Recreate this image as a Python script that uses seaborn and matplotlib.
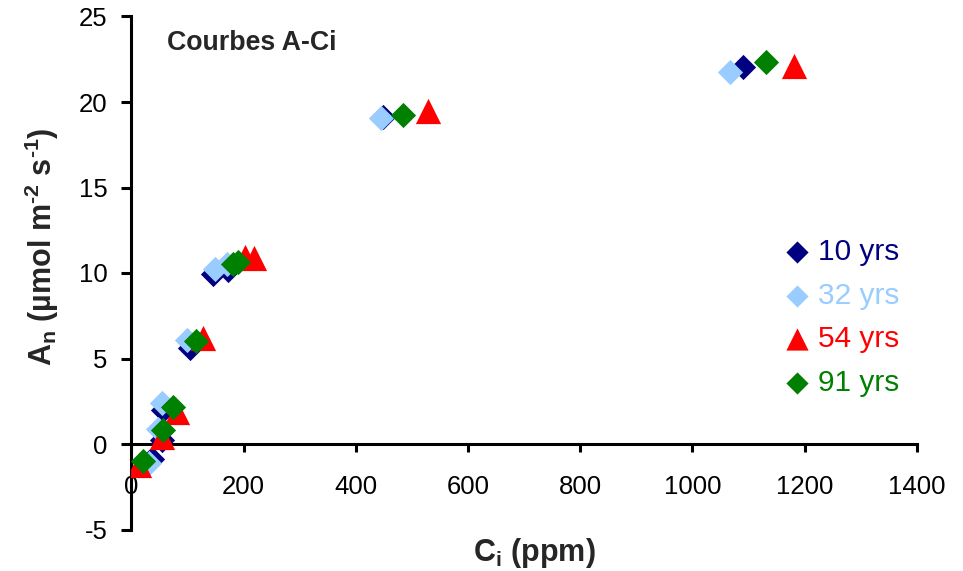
import matplotlib
matplotlib.use("Agg")
import matplotlib.pyplot as plt
import seaborn as sns
import pandas as pd

# ---- data ----
series_names = ["10 yrs", "32 yrs", "54 yrs", "91 yrs"]
ci_10 = [37, 54, 57, 105, 145, 173, 448, 1091]
an_10 = [-0.85, 0.25, 2.0, 5.6, 9.95, 10.15, 19.1, 22.05]
ci_32 = [32, 48, 54, 99, 149, 170, 445, 1067]
an_32 = [-1.1, 0.9, 2.4, 6.1, 10.25, 10.5, 19.05, 21.75]
ci_54 = [14, 54, 82, 128, 203, 219, 528, 1182]
an_54 = [-1.2, 0.4, 1.9, 6.2, 10.95, 10.85, 19.5, 22.1]
ci_91 = [20, 57, 74, 116, 182, 190, 484, 1131]
an_91 = [-1.0, 0.8, 2.15, 6.0, 10.5, 10.65, 19.25, 22.35]

x_ticks = [0, 200, 400, 600, 800, 1000, 1200, 1400]
y_ticks = [-5, 0, 5, 10, 15, 20, 25]

colors = ["#000080", "#99CCFF", "#FF0000", "#008000"]
markers = ["D", "D", "^", "D"]
msizes = [165, 165, 330, 165]

df = pd.concat([
    pd.DataFrame({"Ci": c, "An": a, "series": n})
    for c, a, n in zip([ci_10, ci_32, ci_54, ci_91],
                       [an_10, an_32, an_54, an_91], series_names)
], ignore_index=True)

sns.set_style("white")
plt.rcParams["font.family"] = ["Liberation Sans", "DejaVu Sans"]
plt.rcParams["mathtext.fontset"] = "custom"
plt.rcParams["mathtext.rm"] = "Liberation Sans"
plt.rcParams["mathtext.bf"] = "Liberation Sans:bold"
plt.rcParams["mathtext.it"] = "Liberation Sans:italic"

fig = plt.figure(figsize=(9.63, 5.71), dpi=100)
ax = fig.add_axes([131.3 / 963, 1 - 529.5 / 571, 785.4 / 963, 513 / 571])

for name, col, mk, sz in zip(series_names, colors, markers, msizes):
    sub = df[df["series"] == name]
    sns.scatterplot(data=sub, x="Ci", y="An", ax=ax, color=col, marker=mk,
                    s=sz, linewidth=0, label=name, zorder=3)

ax.set_xlim(0, 1400)
ax.set_ylim(-5, 25)
ax.set_xticks(x_ticks)
ax.set_yticks(y_ticks)
ax.set_xticklabels([str(v) for v in x_ticks])
ax.set_yticklabels([str(v) for v in y_ticks])

for s in ["top", "right"]:
    ax.spines[s].set_visible(False)
ax.spines["bottom"].set_position(("data", 0))
ax.spines["left"].set_position(("data", 0))
for s in ["bottom", "left"]:
    ax.spines[s].set_linewidth(2.2)
    ax.spines[s].set_color("black")

ax.tick_params(axis="x", direction="out", length=5.5, width=2.2, pad=17,
               labelsize=18.5, colors="black", bottom=True)
ax.tick_params(axis="y", direction="out", length=7, width=2.2, pad=10,
               labelsize=18.5, colors="black", left=True)

ax.set_xlabel("C$_\\mathbf{i}$ (ppm)", fontsize=22, fontweight="bold")
ax.xaxis.set_label_coords((534 - 131.3) / 785.4, -(536 - 529.5) / 513)
ax.set_ylabel("A$_\\mathbf{n}$ (µmol m$^{\\mathbf{\u2010 2}}$ s$^{\\mathbf{\u2010 1}}$)",
              fontsize=22, fontweight="bold")
ax.yaxis.set_label_coords((61 - 131.3) / 785.4, (529.5 - 247) / 513)

ax.text(63, 23.45, "Courbes A-Ci", fontsize=19.3, fontweight="bold",
        ha="left", va="center")

leg = ax.legend(loc="upper left", bbox_to_anchor=(782 / 963, 1 - 238 / 571),
                bbox_transform=fig.transFigure, frameon=False, fontsize=21.5,
                handlelength=1.0, handletextpad=0.2, labelspacing=0.52,
                borderpad=0, borderaxespad=0, markerscale=0.88)
for t, c in zip(leg.get_texts(), colors):
    t.set_color(c)

fig.savefig("out.png", dpi=100)
